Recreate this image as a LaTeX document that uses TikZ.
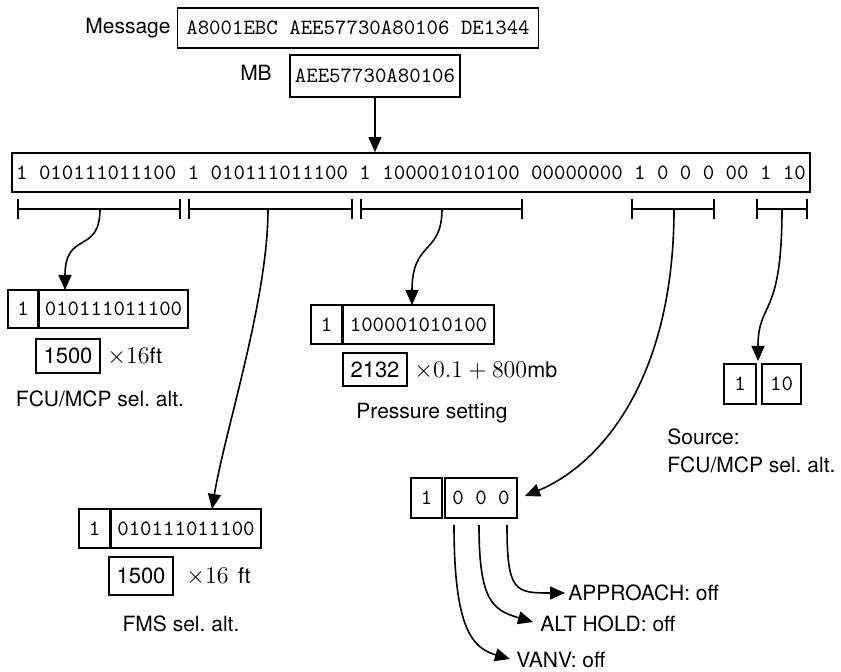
\documentclass[tikz,border=0pt]{standalone}
\usepackage{fontspec}
\setmainfont{TeX Gyre Heros}
\usetikzlibrary{arrows.meta,calc}
\frenchspacing
\newcommand{\mybigmath}[1]{{\fontsize{12}{14}\selectfont$#1$}}
\begin{document}
\begin{tikzpicture}[x=0.5pt,y=-0.5pt,
  bx/.style={draw, line width=0.8pt, inner sep=0pt, font=\ttfamily\fontsize{10.9}{13}\selectfont},
  vb/.style={draw, line width=0.8pt, inner sep=0pt, font=\fontsize{11}{13}\selectfont},
  lbl/.style={inner sep=0pt, font=\fontsize{10.5}{13}\selectfont},
  fm/.style={inner sep=0pt, anchor=west, font=\fontsize{10.8}{14}\selectfont},
  arr/.style={line width=0.8pt, -{Triangle[length=7.5pt,width=6.5pt]}},
  tk/.style={line width=0.8pt}]
\useasboundingbox (0,0) rectangle (841,672);

% top message
\node[lbl] (msglbl) at (128,28) {Message};
\node[bx, minimum width=180.5pt, minimum height=20pt] (msg) at (358,28) {A8001EBC AEE57730A80106 DE1344};
\node[lbl] (mblbl) at (256,73) {MB};
\node[bx, minimum width=85pt, minimum height=21pt] (mb) at (375,76) {AEE57730A80106};
\node[bx, minimum width=399pt, minimum height=19.5pt] (big) at (411,172.5) {1 010111011100 1 010111011100 1 100001010100 00000000 1 0 0 0 00 1 10};
\draw[arr] (mb.south) -- (mb.south |- big.north);

% brackets
\draw[tk] (18,199) -- (18,219) (18,209) -- (180,209) (180,199) -- (180,219);
\draw[tk] (189,199) -- (189,219) (189,209) -- (352,209) (352,199) -- (352,219);
\draw[tk] (361,199) -- (361,219) (361,209) -- (522,209) (522,199) -- (522,219);
\draw[tk] (632,199) -- (632,219) (632,209) -- (714,209) (714,199) -- (714,219);
\draw[tk] (757,199) -- (757,219) (757,209) -- (807,209) (807,199) -- (807,219);
\coordinate (k1) at (100,209);
\coordinate (k2) at (268,209);
\coordinate (k3) at (442,209);
\coordinate (k4) at (674,209);
\coordinate (k5) at (782,209);

% group 1: FCU/MCP
\node[bx, minimum width=15pt, minimum height=19pt] (b1a) at (23,309) {1};
\node[bx, minimum width=74.5pt, minimum height=19pt] (b1b) at (113.5,309) {010111011100};
\node[vb, minimum width=32pt, minimum height=17pt] (v1) at (68,356) {1500};
\node[fm] (f1) at (107,357) {\mybigmath{\times 16}ft};
\node[lbl] (l1) at (100,399) {FCU/MCP sel. alt.};
\coordinate (t1) at (65,290);
\draw[arr] (k1) .. controls (100,255) and (65,230) .. (t1);

% group 2: FMS
\node[bx, minimum width=15.5pt, minimum height=19.5pt] (b2a) at (94.5,528.5) {1};
\node[bx, minimum width=75pt, minimum height=19.5pt] (b2b) at (186,528.5) {010111011100};
\node[vb, minimum width=32pt, minimum height=19pt] (v2) at (141,576) {1500};
\node[fm] (f2) at (186,577) {\mybigmath{\times 16}\ \,ft};
\node[lbl] (l2) at (181,624) {FMS sel. alt.};
\coordinate (t2) at (212,509);
\draw[arr] (k2) .. controls (268,300) and (225,430) .. (t2);

% group 3: pressure
\node[bx, minimum width=15.5pt, minimum height=19.5pt] (b3a) at (326.5,324.5) {1};
\node[bx, minimum width=75.5pt, minimum height=19.5pt] (b3b) at (418.5,324.5) {100001010100};
\node[vb, minimum width=32pt, minimum height=16.5pt] (v3) at (375,369.5) {2132};
\node[fm] (f3) at (414,371) {\mybigmath{\times 0.1 + 800}mb};
\node[lbl] (l3) at (432,413) {Pressure setting};
\coordinate (t3) at (412,305);
\draw[arr] (k3) .. controls (442,255) and (412,240) .. (t3);

% group 4: mode bits
\node[bx, minimum width=15.5pt, minimum height=20pt] (b4a) at (426.5,498) {1};
\node[bx, minimum width=36pt, minimum height=20pt] (b4b) at (481,498) {0 0 0};
\coordinate (t4) at (525,496);
\draw[arr] (k4) .. controls (674,380) and (600,465) .. (t4);

\node[lbl, anchor=west] (m1) at (568,593) {APPROACH: off};
\node[lbl, anchor=west] (m2) at (540,624) {ALT HOLD: off};
\node[lbl, anchor=west] (m3) at (516,660) {VANV: off};
\coordinate (s1) at (507,525);
\coordinate (s2) at (479,525);
\coordinate (s3) at (454,525);
\draw[arr] (s1) .. controls (507,592) and (515,593) .. ($(m1.west)+(-3,0)$);
\draw[arr] (s2) .. controls (479,600) and (492,610) .. ($(m2.west)+(-7,-2)$);
\draw[arr] (s3) .. controls (454,628) and (472,648) .. ($(m3.west)+(-6,-1)$);

% group 5: source
\node[bx, minimum width=16pt, minimum height=20pt] (b5a) at (740,384) {1};
\node[bx, minimum width=19.5pt, minimum height=20pt] (b5b) at (781.5,384) {10};
\node[lbl, anchor=north west, align=left] (l5) at (667,428) {Source:\\[1pt]FCU/MCP sel. alt.};
\coordinate (t5) at (758,361);
\draw[arr] (k5) .. controls (782,320) and (758,300) .. (t5);
\end{tikzpicture}
\end{document}
